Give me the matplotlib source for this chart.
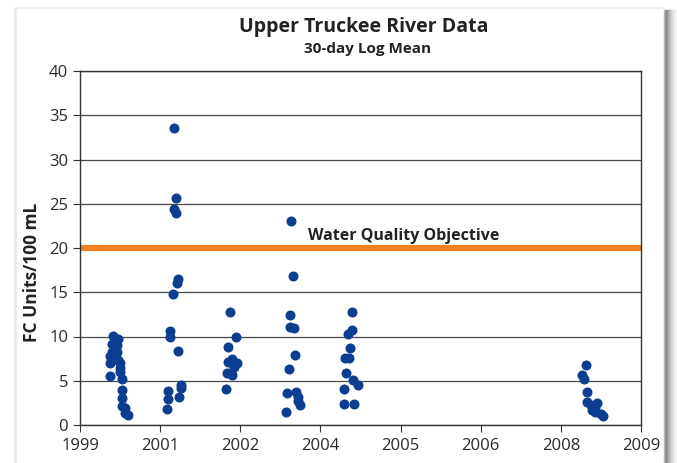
import matplotlib.pyplot as plt
from matplotlib.patches import Rectangle
import numpy as np

# x positions are in axis units (0 = "1999" tick, 1 = "2001" tick, ...)
tick_labels = ['1999', '2001', '2002', '2004', '2005', '2006', '2008', '2009']

x_1999 = [0.417, 0.479, 0.396, 0.458, 0.4375, 0.396, 0.458, 0.375, 0.417, 0.375, 0.479, 0.5,
          0.375, 0.5, 0.5, 0.52, 0.52, 0.52, 0.52, 0.5625, 0.5625, 0.604]
y_1999 = [10.05, 9.7, 9.1, 9.0, 8.7, 8.2, 8.3, 7.8, 7.5, 7.0, 7.3, 7.0,
          5.5, 6.4, 6.0, 5.2, 4.0, 3.1, 2.15, 1.9, 1.4, 1.15]

x_2001 = [1.117, 1.117, 1.225, 1.096, 1.096, 1.083, 1.266, 1.266, 1.241,
          1.175, 1.196, 1.175, 1.196, 1.229, 1.208, 1.158]
y_2001 = [10.66, 9.9, 8.4, 3.84, 2.9, 1.77, 4.5, 4.2, 3.2,
          33.6, 25.7, 24.4, 23.9, 16.5, 16.0, 14.8]

x_2002 = [1.875, 1.95, 1.85, 1.90, 1.85, 1.96, 1.92, 1.83, 1.90, 1.885, 1.82]
y_2002 = [12.77, 10.0, 8.85, 7.5, 7.15, 6.97, 6.6, 5.84, 5.65, 5.9, 4.07]

x_2004 = [2.6375, 2.6625, 2.617, 2.617, 2.667, 2.679, 2.604, 2.583, 2.7, 2.716, 2.725, 2.746, 2.571]
y_2004 = [23.1, 16.8, 12.4, 11.1, 10.96, 7.9, 6.3, 3.58, 3.77, 3.2, 2.75, 2.26, 1.47]

x_2005 = [3.40, 3.40, 3.35, 3.375, 3.31, 3.36, 3.32, 3.41, 3.47, 3.30, 3.30, 3.425]
y_2005 = [12.77, 10.7, 10.25, 8.7, 7.6, 7.6, 5.84, 5.08, 4.52, 4.07, 2.41, 2.41]

x_2008 = [6.3125, 6.2625, 6.29, 6.325, 6.325, 6.375, 6.45, 6.39, 6.425, 6.425, 6.5, 6.525]
y_2008 = [6.78, 5.6, 5.2, 3.73, 2.6, 2.26, 2.45, 1.7, 1.9, 1.5, 1.24, 1.0]

objective = 20

xs = np.concatenate([x_1999, x_2001, x_2002, x_2004, x_2005, x_2008])
ys = np.concatenate([y_1999, y_2001, y_2002, y_2004, y_2005, y_2008])

plt.rcParams['font.family'] = ['Open Sans', 'DejaVu Sans']

fig = plt.figure(figsize=(6.77, 4.63), dpi=100)
ax = fig.add_axes([80 / 677, 1 - 425 / 463, 561 / 677, 354 / 463])

# soft card shadow on the right, plus faint edge on the left/top
shades = ['#bdbdbd', '#9a9a9a', '#8c8c8c', '#959595', '#a4a4a4', '#b4b4b4',
          '#c3c3c3', '#d0d0d0', '#dbdbdb', '#e4e4e4', '#ececec', '#f2f2f2', '#f7f7f7']
for i, c in enumerate(shades):
    fig.patches.append(Rectangle(((664 + i) / 677, 0), 1.05 / 677, 1 - 10 / 463,
                                 transform=fig.transFigure, color=c, zorder=0))
fig.patches.append(Rectangle((14 / 677, 0), 1.5 / 677, 1 - 8 / 463,
                             transform=fig.transFigure, color='#ececec', zorder=0))
fig.patches.append(Rectangle((14 / 677, 1 - 8 / 463), 650 / 677, 1.5 / 463,
                             transform=fig.transFigure, color='#f0f0f0', zorder=0))

ax.set_xlim(0, 7)
ax.set_ylim(0, 40)
ax.set_yticks(range(0, 41, 5))
ax.set_xticks(range(8))
ax.set_xticklabels(tick_labels)
ax.yaxis.grid(True, color='#4a4a4a', linewidth=0.9)
ax.set_axisbelow(True)

ax.axhline(objective, color='#f58220', linewidth=4.5, zorder=2)
ax.text(4.04, objective + 0.5, 'Water Quality Objective', ha='center', va='bottom',
        fontsize=11.5, fontweight='bold', color='#222222')

ax.scatter(xs, ys, s=52, color='#0b3d91', zorder=3, linewidths=0)

for s in ax.spines.values():
    s.set_color('#333333')
    s.set_linewidth(1.0)
ax.tick_params(axis='both', direction='out', length=5, color='#333333',
               labelsize=12, labelcolor='#2a2a2a')
ax.tick_params(axis='x', pad=4)

ax.set_ylabel('FC Units/100 mL', fontsize=12.5, fontweight='bold', color='#222222')
ax.yaxis.set_label_coords(-0.069, 0.432)

fig.text(364 / 677, 1 - 27 / 463, 'Upper Truckee River Data', ha='center', va='center',
         fontsize=14, fontweight='bold', color='#222222')
fig.text(368 / 677, 1 - 49 / 463, '30-day Log Mean', ha='center', va='center',
         fontsize=11, fontweight='bold', color='#222222')

fig.savefig('out.png', dpi=100)
